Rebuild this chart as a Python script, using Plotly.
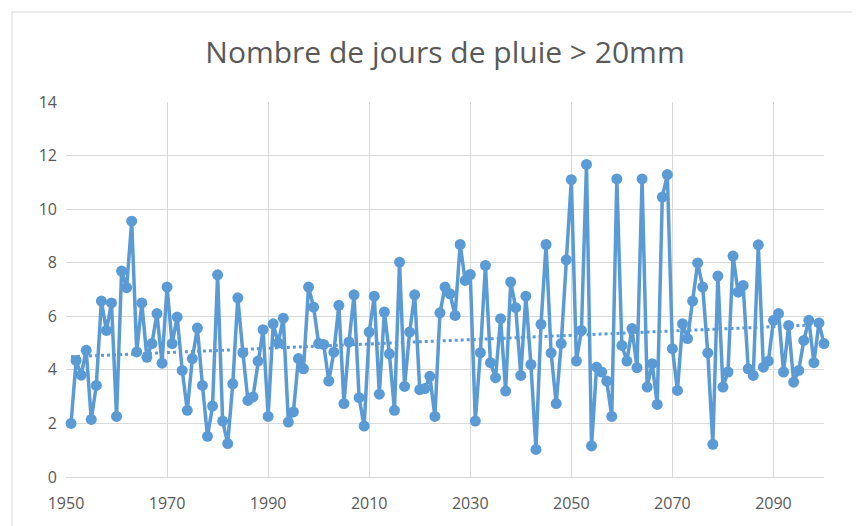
import numpy as np
import plotly.graph_objects as go

years = list(range(1951, 2101))
values = [
    2.0, 4.35, 3.8, 4.73, 2.15, 3.42, 6.57, 5.47, 6.5, 2.26,
    7.69, 7.07, 9.55, 4.67, 6.5, 4.47, 4.98, 6.1, 4.25, 7.09,
    4.98, 5.97, 3.98, 2.49, 4.42, 5.56, 3.42, 1.52, 2.65, 7.55,
    2.09, 1.25, 3.48, 6.69, 4.64, 2.86, 2.99, 4.33, 5.5, 2.26,
    5.72, 5.0, 5.93, 2.05, 2.43, 4.42, 4.04, 7.09, 6.34, 4.98,
    4.95, 3.58, 4.66, 6.41, 2.74, 5.04, 6.8, 2.96, 1.9, 5.41,
    6.75, 3.09, 6.16, 4.6, 2.49, 8.02, 3.38, 5.41, 6.8, 3.26,
    3.3, 3.76, 2.26, 6.13, 7.09, 6.84, 6.03, 8.68, 7.34, 7.56,
    2.09, 4.64, 7.9, 4.27, 3.71, 5.91, 3.21, 7.28, 6.32, 3.79,
    6.75, 4.2, 1.03, 5.7, 8.68, 4.63, 2.74, 4.98, 8.11, 11.1,
    4.33, 5.47, 11.67, 1.16, 4.1, 3.92, 3.58, 2.26, 11.13, 4.91,
    4.33, 5.54, 4.08, 11.13, 3.36, 4.23, 2.71, 10.45, 11.29, 4.79,
    3.23, 5.72, 5.17, 6.57, 7.99, 7.09, 4.63, 1.22, 7.5, 3.36,
    3.92, 8.25, 6.9, 7.15, 4.04, 3.79, 8.67, 4.1, 4.33, 5.85,
    6.1, 3.92, 5.66, 3.54, 3.98, 5.1, 5.85, 4.27, 5.75, 4.98,
]
title_text = "Nombre de jours de pluie > 20mm"
x_ticks = [1950, 1970, 1990, 2010, 2030, 2050, 2070, 2090]
y_ticks = [0, 2, 4, 6, 8, 10, 12, 14]

blue = "#5B9BD5"
grey_text = "#595959"
grid = "#D9D9D9"

slope, intercept = np.polyfit(years, values, 1)
trend = [slope * y + intercept for y in years]

fig = go.Figure()
fig.add_trace(go.Scatter(
    x=years, y=trend, mode="lines",
    line=dict(color=blue, width=3, dash="dot"),
    hoverinfo="skip", showlegend=False, cliponaxis=False,
))
fig.add_trace(go.Scatter(
    x=years, y=values, mode="lines+markers",
    line=dict(color=blue, width=3.5),
    marker=dict(color=blue, size=11),
    showlegend=False, cliponaxis=False,
))

fig.update_layout(
    width=852, height=518,
    paper_bgcolor="white", plot_bgcolor="white",
    margin=dict(l=58, r=36, t=94, b=49),
    title=dict(text=title_text, x=0.5, xref="paper", xanchor="center",
               y=1 - 44 / 518, yref="container", yanchor="middle",
               font=dict(family="Open Sans", size=30, color=grey_text)),
    font=dict(family="Open Sans", size=16, color=grey_text),
    xaxis=dict(range=[1950, 2100], tickvals=x_ticks, showgrid=True,
               gridcolor=grid, gridwidth=1, zeroline=False,
               showline=True, linecolor=grid, linewidth=1,
               ticks="", ticklabelstandoff=12,
               tickfont=dict(size=16, color=grey_text)),
    yaxis=dict(range=[0, 14], tickvals=y_ticks, showgrid=True,
               gridcolor=grid, gridwidth=1, zeroline=False,
               showline=False, ticks="", ticklabelstandoff=8,
               tickfont=dict(size=16, color=grey_text)),
    shapes=[dict(type="rect", xref="paper", yref="paper",
                 x0=-0.0712, x1=1.2, y0=-0.3, y1=1.24,
                 line=dict(color=grid, width=1), layer="below")],
)

fig.write_html("out.html")
